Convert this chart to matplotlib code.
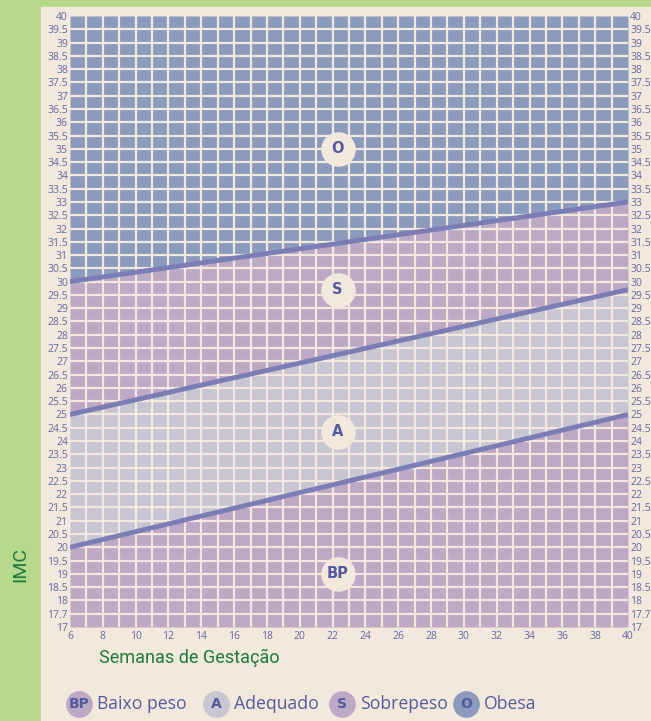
import numpy as np
import matplotlib.pyplot as plt
from matplotlib.patches import Rectangle

# dados (curva de IMC por semana de gestação)
weeks = [6, 40]
bp_upper = [20.0, 25.0]     # Baixo peso / Adequado
a_upper = [25.0, 29.7]      # Adequado / Sobrepeso
s_upper = [30.0, 33.0]      # Sobrepeso / Obesa

x_ticks = list(range(6, 41, 2))
y_ticks = [17 + 0.5 * i for i in range(47)]
y_labels = ['%g' % v for v in y_ticks]
y_labels[1] = '17.7'

zone_codes = ['O', 'S', 'A', 'BP']
zone_pos = [(22.3, 35.0), (22.3, 29.7), (22.3, 24.35), (22.3, 19.0)]

legend_codes = ['BP', 'A', 'S', 'O']
legend_names = ['Baixo peso', 'Adequado', 'Sobrepeso', 'Obesa']

green_bg = '#b6d98b'
cream = '#f2e9dc'
c_obesa = '#8a9bbd'
c_sobre = '#bca9c5'
c_adeq = '#c8c6d3'
c_baixo = '#bda8c5'
line_c = '#7c7db6'
txt_c = '#6266a6'
dark_txt = '#555a9e'
green_txt = '#1e7a3e'
ff = 'Open Sans'

W, H = 651, 721
fig = plt.figure(figsize=(W / 100, H / 100), dpi=100, facecolor=green_bg)

# fundo creme
bg = fig.add_axes([0, 0, 1, 1])
bg.set_xlim(0, W)
bg.set_ylim(H, 0)
bg.axis('off')
bg.add_patch(Rectangle((41, 7), W - 41, H - 7, color=cream, zorder=0))

ax = fig.add_axes([70 / W, 1 - 627 / H, (628 - 70) / W, (627 - 16) / H])
ax.set_facecolor(cream)
ax.set_xlim(6, 40)
ax.set_ylim(17, 40)

ax.fill_between(weeks, 17, bp_upper, color=c_baixo, lw=0, zorder=1)
ax.fill_between(weeks, bp_upper, a_upper, color=c_adeq, lw=0, zorder=1)
ax.fill_between(weeks, a_upper, s_upper, color=c_sobre, lw=0, zorder=1)
ax.fill_between(weeks, s_upper, 40, color=c_obesa, lw=0, zorder=1)

for xv in range(7, 40):
    ax.axvline(xv, color=cream, lw=1.6, zorder=2)
for yv in np.arange(17.5, 40, 0.5):
    ax.axhline(yv, color=cream, lw=1.6, zorder=2)

for arr in (bp_upper, a_upper, s_upper):
    ax.plot(weeks, arr, color=line_c, lw=3.5, solid_capstyle='butt', zorder=3)

for code, (xp, yp) in zip(zone_codes, zone_pos):
    ax.scatter([xp], [yp], s=620, color=cream, zorder=4, linewidths=0)
    ax.text(xp, yp, code, ha='center', va='center', fontsize=10.5,
            fontweight='bold', color=dark_txt, family='DejaVu Sans', zorder=5)

for s in ax.spines.values():
    s.set_visible(False)
ax.set_xticks(x_ticks)
ax.set_xticklabels([str(v) for v in x_ticks], fontsize=7.5, color=txt_c,
                   family=ff)
ax.set_yticks(y_ticks)
ax.set_yticklabels(y_labels, fontsize=7.5, color=txt_c, family=ff)
ax.tick_params(axis='both', length=0, pad=3)
ax.tick_params(axis='y', labelright=True, pad=1.5)

bg.text(99, 658, 'Semanas de Gestação', fontsize=13, color=green_txt,
        family='Roboto', ha='left', va='center')
bg.text(20, 565, 'IMC', fontsize=14, color=green_txt, rotation=90,
        family='Roboto', ha='center', va='center')

leg_x = [79, 216, 342, 466]
for xc, code, name, col in zip(leg_x, legend_codes, legend_names,
                               [c_baixo, c_adeq, c_sobre, c_obesa]):
    bg.scatter([xc], [704], s=370, color=col, linewidths=0, zorder=2)
    bg.text(xc, 704, code, ha='center', va='center', fontsize=10,
            fontweight='bold', color=dark_txt, family='DejaVu Sans', zorder=3)
    bg.text(xc + 18, 704, name, ha='left', va='center', fontsize=12.7,
            color=dark_txt, family=ff, zorder=3)

fig.savefig('out.png', dpi=100, facecolor=green_bg)
